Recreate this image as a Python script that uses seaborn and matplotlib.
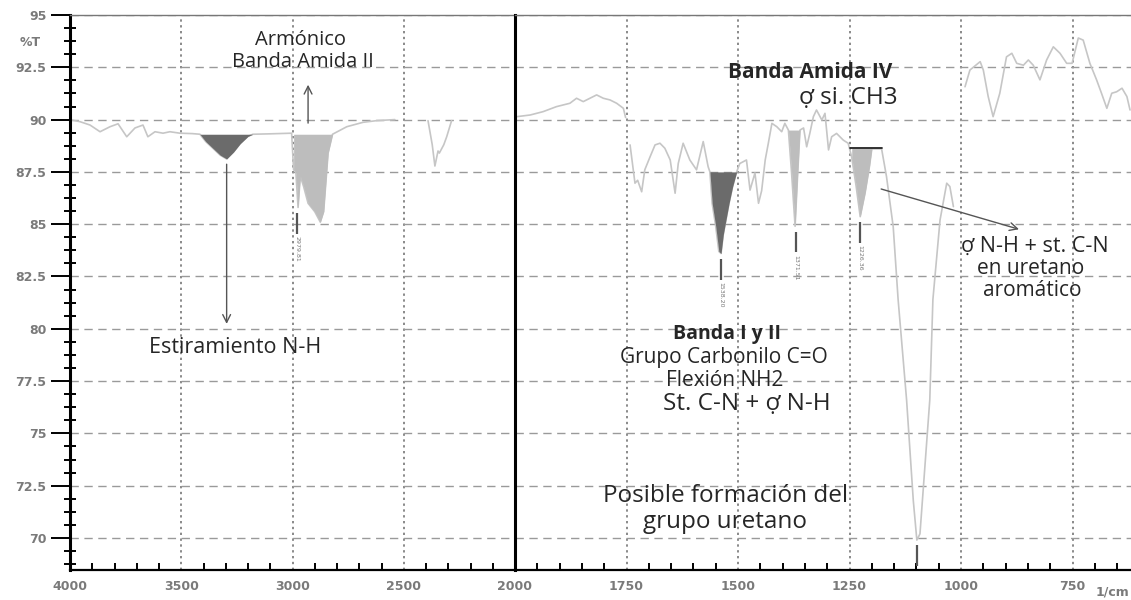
import numpy as np
import pandas as pd
import seaborn as sns
import matplotlib.pyplot as plt
from matplotlib.ticker import MultipleLocator, FuncFormatter, FixedLocator

sns.set_theme(style="white")
plt.rcParams['font.family'] = ['Open Sans', 'DejaVu Sans']

# FTIR spectrum: wavenumber (1/cm) and %T, in pieces
seg1_wn = [4000, 3955, 3910, 3865, 3820, 3784, 3745, 3708, 3672, 3650, 3618, 3582,
           3551, 3506, 3450, 3416, 3390, 3355, 3325, 3296, 3265, 3235, 3200, 3178,
           3100, 3004, 2995, 2985, 2975, 2965, 2950, 2930, 2900, 2875, 2860, 2850,
           2840, 2820, 2756, 2683, 2622, 2540]
seg1_t = [90.0, 89.9, 89.74, 89.42, 89.66, 89.8, 89.18, 89.6, 89.74, 89.18, 89.42, 89.35,
          89.42, 89.35, 89.33, 89.3, 88.95, 88.6, 88.3, 88.12, 88.45, 88.85, 89.2, 89.3,
          89.32, 89.35, 87.6, 87.5, 85.8, 87.3, 86.8, 86.0, 85.6, 85.1, 85.6, 87.0,
          88.4, 89.3, 89.66, 89.87, 89.95, 90.0]

seg2_wn = [2391, 2372, 2360, 2346, 2340, 2320, 2307, 2285]
seg2_t = [89.95, 88.8, 87.78, 88.5, 88.4, 88.8, 89.18, 89.95]

seg3_wn = [1996, 1966, 1937, 1907, 1877, 1862, 1847, 1832, 1817, 1802, 1787, 1772, 1757, 1752]
seg3_t = [90.14, 90.22, 90.38, 90.62, 90.78, 91.02, 90.86, 91.02, 91.18, 91.02, 90.94, 90.78, 90.54, 90.1]

seg4_wn = [1742, 1731, 1725, 1716, 1709, 1697, 1686, 1675, 1664, 1652, 1641, 1634, 1623,
           1608, 1593, 1578, 1567, 1563, 1558, 1550, 1543, 1538, 1533, 1527, 1520, 1512,
           1503, 1496, 1481, 1473, 1462, 1454, 1447, 1439, 1432, 1424, 1413, 1402, 1395,
           1387, 1380, 1372, 1366, 1361, 1353, 1346, 1339, 1331, 1324, 1312, 1305, 1297,
           1290, 1279, 1264, 1253, 1245, 1235, 1226, 1215, 1205, 1200, 1178, 1167, 1152,
           1141, 1122, 1107, 1099, 1092, 1081, 1070, 1063, 1047, 1032, 1025, 1017]
seg4_t = [88.79, 86.96, 87.1, 86.55, 87.6, 88.23, 88.79, 88.87, 88.63, 88.07, 86.48, 87.9, 88.87,
          88.07, 87.6, 88.95, 87.75, 87.5, 86.0, 84.9, 83.7, 83.6, 84.5, 85.2, 86.0, 86.8,
          87.5, 87.9, 88.07, 86.63, 87.45, 86.0, 86.6, 88.07, 88.87, 89.82, 89.66, 89.42, 89.82,
          89.5, 87.5, 84.9, 87.5, 89.5, 89.6, 88.7, 89.34, 90.14, 90.46, 89.98, 90.3, 88.55,
          89.18, 89.34, 89.02, 88.87, 88.2, 86.8, 85.36, 86.5, 87.8, 88.6, 88.6, 87.27, 84.88,
          81.4, 76.6, 71.8, 69.9, 70.2, 73.4, 76.6, 81.4, 85.2, 86.96, 86.8, 85.84]

seg5_wn = [991, 980, 957, 950, 939, 928, 913, 898, 886, 875, 860, 849, 838, 823, 808, 793,
           778, 763, 751, 737, 726, 711, 696, 685, 673, 662, 651, 639, 628, 621]
seg5_t = [91.57, 92.37, 92.77, 92.37, 91.1, 90.14, 91.26, 93.0, 93.17, 92.69, 92.6, 92.85,
          92.6, 91.9, 92.85, 93.48, 93.17, 92.69, 92.69, 93.9, 93.8, 92.69, 91.9, 91.26,
          90.54, 91.26, 91.33, 91.5, 91.1, 90.46]

# shaded bands: (from, to, top level, colour)
band_lo = [3178, 2820, 1503, 1361, 1200]
band_hi = [3416, 3004, 1563, 1387, 1245]
band_top = [89.3, 89.3, 87.5, 89.5, 88.63]
band_dark = [True, False, True, False, False]

# peak markers
peak_wn = [2980, 1538, 1370, 1226, 1099]
peak_lab = ['2979.81', '1538.20', '1371.51', '1226.36', '']

segs = [(seg1_wn, seg1_t), (seg2_wn, seg2_t), (seg3_wn, seg3_t), (seg4_wn, seg4_t), (seg5_wn, seg5_t)]
df = pd.concat([pd.DataFrame({'wn': w, 'T': t, 'seg': i}) for i, (w, t) in enumerate(segs)],
               ignore_index=True)

fig = plt.figure(figsize=(11.31, 6.0), dpi=100)
ax1 = fig.add_axes([70 / 1131, 30 / 600, 445 / 1131, 555 / 600])
ax2 = fig.add_axes([515 / 1131, 30 / 600, 616 / 1131, 555 / 600])

line_col = '#c6c6c6'
dark_col = '#6b6b6b'
light_col = '#bdbdbd'
tick_col = '#7a7a7a'
tick_font = dict(family='DejaVu Sans', weight='bold', size=9)

for ax in (ax1, ax2):
    sns.lineplot(data=df, x='wn', y='T', units='seg', estimator=None, sort=False,
                 color=line_col, lw=1.2, ax=ax, legend=False)
    for lo, hi, top, dk in zip(band_lo, band_hi, band_top, band_dark):
        sub = df[(df.wn >= lo) & (df.wn <= hi)]
        ax.fill_between(sub.wn, sub['T'], top, where=sub['T'] <= top + 0.01,
                        color=dark_col if dk else light_col, lw=0, zorder=3)
    ax.set_ylim(68.47, 95.0)
    ax.yaxis.set_major_locator(MultipleLocator(2.5))
    ax.grid(axis='y', ls=(0, (6, 4)), color='#9a9a9a', lw=1)
    ax.grid(axis='x', ls=(0, (1.2, 1.8)), color='#8a8a8a', lw=1.4)
    ax.set_xlabel('')
    ax.set_ylabel('')
    for s in ('left', 'bottom'):
        ax.spines[s].set_color('black')
    ax.spines['left'].set_linewidth(2.2)
    ax.spines['bottom'].set_linewidth(1.6)
    ax.spines['top'].set_color('#777777')
    ax.spines['top'].set_linewidth(1)
    ax.spines['right'].set_visible(False)
    ax.tick_params(axis='x', which='major', direction='inout', length=13, width=1.6,
                   color='black', labelcolor=tick_col, pad=1)
    ax.tick_params(axis='x', which='minor', direction='in', length=5, width=1.4,
                   color='black', bottom=True)

ax1.set_xlim(4000, 2000)
ax1.xaxis.set_major_locator(FixedLocator([4000, 3500, 3000, 2500, 2000]))
ax1.xaxis.set_minor_locator(MultipleLocator(100))
ax1.yaxis.set_minor_locator(MultipleLocator(0.625))
ax1.yaxis.set_major_formatter(FuncFormatter(lambda v, _: f'{v:g}'))
ax1.tick_params(axis='y', which='major', direction='out', length=14, width=1.4,
                color='black', labelcolor=tick_col, pad=3, left=True)
ax1.tick_params(axis='y', which='minor', direction='inout', length=8, width=1.4,
                color='black', left=True)

ax2.set_xlim(2000, 2000 - 616 / 0.446)
ax2.xaxis.set_major_locator(FixedLocator([1750, 1500, 1250, 1000, 750]))
ax2.xaxis.set_minor_locator(MultipleLocator(50))
ax2.tick_params(axis='y', which='both', left=False, labelleft=False, length=0)

for lab in ax1.get_xticklabels() + ax1.get_yticklabels() + ax2.get_xticklabels():
    lab.set_fontproperties(tick_font)

fig.text(30 / 1131, 1 - 42 / 600, '%T', color=tick_col, ha='center', va='center', **tick_font)
fig.text(1129 / 1131, 0.003, '1/cm', color=tick_col, ha='right', va='bottom', **tick_font)

# peak markers with their small rotated labels
for wn, lab in zip(peak_wn, peak_lab):
    ax = ax1 if wn > 2000 else ax2
    sub = df[(df.wn - wn).abs() < 12]
    low = sub['T'].min() - 0.25
    ax.vlines(wn, low - 1.0, low, color='#555555', lw=1.6, zorder=4)
    if lab:
        ax.text(wn, low - 1.1, lab, rotation=270, fontsize=4.5, color='#777777',
                family='DejaVu Sans', ha='center', va='top', zorder=4)

txt = '#262626'
arrow = dict(arrowstyle='->', color='#555555', lw=1, mutation_scale=14)

ax1.text(2962, 93.8, 'Armónico', fontsize=14.5, color=txt, ha='center', va='center')
ax1.text(2955, 92.75, 'Banda Amida II', fontsize=14.5, color=txt, ha='center', va='center')
ax1.annotate('', xy=(2930, 91.8), xytext=(2930, 89.7), arrowprops=arrow)
ax1.annotate('', xy=(3296, 80.1), xytext=(3296, 88.0), arrowprops=arrow)
ax1.text(3258, 79.1, 'Estiramiento N-H', fontsize=15.5, color=txt, ha='center', va='center')

ax2.text(1339, 92.25, 'Banda Amida IV', fontsize=15, fontweight='bold', color=txt,
         ha='center', va='center')
ax2.text(1253, 91.05, 'ợ si. CH3', fontsize=17.5, color=txt, ha='center', va='center')
ax2.plot([1249, 1178], [88.63, 88.63], color='#222222', lw=1.3, zorder=4)
ax2.annotate('', xy=(864, 84.72), xytext=(1185, 86.72), arrowprops=arrow)
ax2.text(835, 83.95, 'ợ N-H + st. C-N', fontsize=15.5, color=txt, ha='center', va='center')
ax2.text(845, 82.9, 'en uretano', fontsize=15, color=txt, ha='center', va='center')
ax2.text(841, 81.85, 'aromático', fontsize=15, color=txt, ha='center', va='center')

ax2.text(1525, 79.75, 'Banda I y II', fontsize=14, fontweight='bold', color=txt,
         ha='center', va='center')
ax2.text(1531, 78.65, 'Grupo Carbonilo C=O', fontsize=15, color=txt, ha='center', va='center')
ax2.text(1529, 77.55, 'Flexión NH2', fontsize=15, color=txt, ha='center', va='center')
ax2.text(1480, 76.4, 'St. C-N + ợ N-H', fontsize=17.5, color=txt, ha='center', va='center')
ax2.text(1529, 72.0, 'Posible formación del', fontsize=17.5, color=txt, ha='center', va='center')
ax2.text(1529, 70.75, 'grupo uretano', fontsize=17.5, color=txt, ha='center', va='center')

fig.savefig('out.png', dpi=100, facecolor='white')
